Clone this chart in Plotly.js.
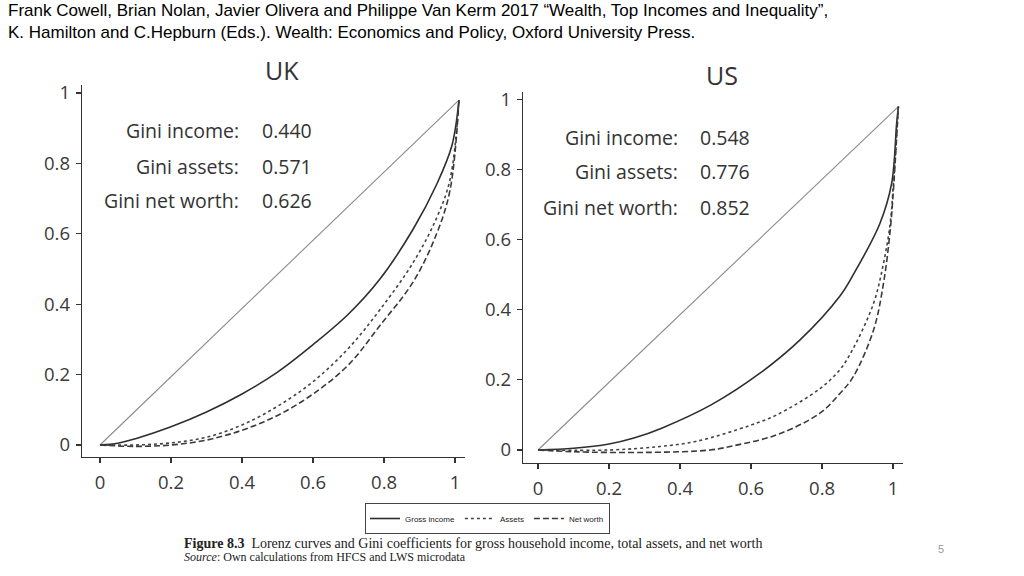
<!DOCTYPE html>
<html>
<head>
<meta charset="utf-8">
<script src="https://cdn.plot.ly/plotly-3.0.1.min.js"></script>
<style>html,body{margin:0;padding:0;background:#fff;}#chart{width:1024px;height:576px;}</style>
</head>
<body>
<div id="chart"></div>
<script>
// ---- Data ----
const tickVals = [0, 0.2, 0.4, 0.6, 0.8, 1];
const tickText = ["0", "0.2", "0.4", "0.6", "0.8", "1"];

const equalityXUK = [0, 1.011];
const equalityYUK = [0, 0.98];
const equalityXUS = [0, 1.015];
const equalityYUS = [0, 0.979];

const ukIncomeX = [0, 0.05, 0.1, 0.2, 0.3, 0.4, 0.5, 0.6, 0.7, 0.789, 0.883, 0.948, 0.991, 1.011];
const ukIncomeY = [0, 0.005, 0.018, 0.052, 0.094, 0.145, 0.207, 0.285, 0.372, 0.472, 0.615, 0.74, 0.85, 0.98];
const ukAssetsX = [0, 0.1, 0.2, 0.3, 0.4, 0.5, 0.6, 0.7, 0.789, 0.883, 0.948, 0.986, 1.011];
const ukAssetsY = [0, 0, 0.006, 0.022, 0.057, 0.11, 0.18, 0.275, 0.385, 0.52, 0.645, 0.755, 0.98];
const ukNetX = [0, 0.1, 0.2, 0.3, 0.4, 0.5, 0.6, 0.7, 0.789, 0.883, 0.948, 0.986, 1.011];
const ukNetY = [0, -0.004, 0, 0.014, 0.042, 0.084, 0.145, 0.228, 0.34, 0.465, 0.6, 0.725, 0.98];

const usIncomeX = [0, 0.1, 0.2, 0.27, 0.35, 0.49, 0.625, 0.738, 0.851, 0.888, 0.963, 0.996, 1.01, 1.015];
const usIncomeY = [0, 0.005, 0.017, 0.034, 0.063, 0.13, 0.219, 0.314, 0.44, 0.5, 0.646, 0.76, 0.93, 0.979];
const usAssetsX = [0, 0.2, 0.344, 0.447, 0.597, 0.672, 0.794, 0.851, 0.888, 0.945, 0.973, 0.992, 1.001, 1.015];
const usAssetsY = [0, 0, 0.01, 0.025, 0.07, 0.1, 0.175, 0.23, 0.29, 0.418, 0.532, 0.646, 0.76, 0.979];
const usNetX = [0, 0.1, 0.3, 0.485, 0.55, 0.672, 0.794, 0.851, 0.888, 0.945, 0.973, 0.992, 1.001, 1.015];
const usNetY = [0, -0.005, -0.007, 0, 0.012, 0.043, 0.105, 0.162, 0.209, 0.342, 0.475, 0.627, 0.741, 0.979];

const seriesNames = ["Gross income", "Assets", "Net worth"];
const giniLabels = ["Gini income:", "Gini assets:", "Gini net worth:"];
const giniUK = ["0.440", "0.571", "0.626"];
const giniUS = ["0.548", "0.776", "0.852"];
const panelTitles = ["UK", "US"];

const headerLines = [
  "Frank Cowell, Brian Nolan, Javier Olivera and Philippe Van Kerm 2017 \u201cWealth, Top Incomes and Inequality\u201d,",
  "K. Hamilton and C.Hepburn (Eds.). Wealth: Economics and Policy, Oxford University Press."
];
const captionLine1 = "<b>Figure 8.3</b>  Lorenz curves and Gini coefficients for gross household income, total assets, and net worth";
const captionLine2 = "<i>Source</i>: Own calculations from HFCS and LWS microdata";
const pageNumber = "5";

// ---- Styles ----
const FONT = "Open Sans, Noto Sans, sans-serif";
const incomeLine = {color: "#2e2e2e", width: 1.6, shape: "spline", smoothing: 1};
const assetsLine = {color: "#444", width: 1.6, dash: "dot", shape: "spline", smoothing: 1};
const netLine = {color: "#3a3a3a", width: 1.6, dash: "6px,3px", shape: "spline", smoothing: 1};
const diagLine = {color: "#8a8a8a", width: 1.1};

const traces = [
  {x: equalityXUK, y: equalityYUK, xaxis: "x", yaxis: "y", mode: "lines", line: diagLine, showlegend: false, hoverinfo: "skip"},
  {x: ukIncomeX, y: ukIncomeY, xaxis: "x", yaxis: "y", mode: "lines", line: incomeLine, name: seriesNames[0], legendgroup: "a"},
  {x: ukAssetsX, y: ukAssetsY, xaxis: "x", yaxis: "y", mode: "lines", line: assetsLine, name: seriesNames[1], legendgroup: "b"},
  {x: ukNetX, y: ukNetY, xaxis: "x", yaxis: "y", mode: "lines", line: netLine, name: seriesNames[2], legendgroup: "c"},
  {x: equalityXUS, y: equalityYUS, xaxis: "x2", yaxis: "y2", mode: "lines", line: diagLine, showlegend: false, hoverinfo: "skip"},
  {x: usIncomeX, y: usIncomeY, xaxis: "x2", yaxis: "y2", mode: "lines", line: incomeLine, name: seriesNames[0], legendgroup: "a", showlegend: false},
  {x: usAssetsX, y: usAssetsY, xaxis: "x2", yaxis: "y2", mode: "lines", line: assetsLine, name: seriesNames[1], legendgroup: "b", showlegend: false},
  {x: usNetX, y: usNetY, xaxis: "x2", yaxis: "y2", mode: "lines", line: netLine, name: seriesNames[2], legendgroup: "c", showlegend: false}
];

function axisBase(extra) {
  return Object.assign({
    showgrid: false, zeroline: false, showline: true, linecolor: "#333", linewidth: 1.3,
    ticks: "outside", ticklen: 5, tickwidth: 1.2, tickcolor: "#333",
    tickvals: tickVals, ticktext: tickText,
    tickfont: {family: FONT, size: 18.5, color: "#3a3a3a"},
    fixedrange: true
  }, extra);
}

const W = 1024, H = 576;
const px = v => v / W;
const py = v => 1 - v / H;

const annotations = [];
annotations.push({text: panelTitles[0], x: px(282), y: py(70), xref: "paper", yref: "paper", showarrow: false, font: {family: FONT, size: 25, color: "#333"}, xanchor: "center", yanchor: "middle"});
annotations.push({text: panelTitles[1], x: px(722), y: py(75), xref: "paper", yref: "paper", showarrow: false, font: {family: FONT, size: 25, color: "#333"}, xanchor: "center", yanchor: "middle"});
const ukRows = [130, 166, 201];
const usRows = [137, 171, 207];
const giniFont = {family: FONT, size: 19.5, color: "#333"};
for (let i = 0; i < 3; i++) {
  annotations.push({text: giniLabels[i], x: px(241), y: py(ukRows[i]), xref: "paper", yref: "paper", showarrow: false, xanchor: "right", yanchor: "middle", font: giniFont});
  annotations.push({text: giniUK[i], x: px(260), y: py(ukRows[i]), xref: "paper", yref: "paper", showarrow: false, xanchor: "left", yanchor: "middle", font: giniFont});
  annotations.push({text: giniLabels[i], x: px(680), y: py(usRows[i]), xref: "paper", yref: "paper", showarrow: false, xanchor: "right", yanchor: "middle", font: giniFont});
  annotations.push({text: giniUS[i], x: px(698), y: py(usRows[i]), xref: "paper", yref: "paper", showarrow: false, xanchor: "left", yanchor: "middle", font: giniFont});
}
const headFont = {family: "Liberation Sans, Arial, sans-serif", size: 17, color: "#000"};
annotations.push({text: headerLines[0], x: px(6), y: py(11), xref: "paper", yref: "paper", showarrow: false, xanchor: "left", yanchor: "middle", font: headFont});
annotations.push({text: headerLines[1], x: px(6), y: py(32), xref: "paper", yref: "paper", showarrow: false, xanchor: "left", yanchor: "middle", font: headFont});
annotations.push({text: captionLine1, x: px(182), y: py(543), xref: "paper", yref: "paper", showarrow: false, xanchor: "left", yanchor: "middle", font: {family: "Liberation Serif, DejaVu Serif, serif", size: 14, color: "#222"}});
annotations.push({text: captionLine2, x: px(182), y: py(557), xref: "paper", yref: "paper", showarrow: false, xanchor: "left", yanchor: "middle", font: {family: "Liberation Serif, DejaVu Serif, serif", size: 12, color: "#222"}});
annotations.push({text: pageNumber, x: px(941), y: py(549), xref: "paper", yref: "paper", showarrow: false, xanchor: "center", yanchor: "middle", font: {family: "Liberation Sans, Arial, sans-serif", size: 11, color: "#999"}});

const layout = {
  width: W, height: H,
  margin: {l: 0, r: 0, t: 0, b: 0},
  paper_bgcolor: "#fff", plot_bgcolor: "#fff",
  showlegend: true,
  legend: {
    orientation: "h", x: px(365), y: py(503), xanchor: "left", yanchor: "top",
    bordercolor: "#444", borderwidth: 1, bgcolor: "#fff",
    font: {family: "Liberation Sans Narrow, Liberation Sans, Arial, sans-serif", size: 8, color: "#222"},
    itemwidth: 30, tracegroupgap: 0
  },
  xaxis: axisBase({domain: [px(82), px(465)], range: [-0.0507, 1.028], anchor: "y", ticklabelstandoff: 3}),
  yaxis: axisBase({domain: [py(457), py(85)], range: [-0.0341, 1.0227], anchor: "x", ticklabelstandoff: 2}),
  xaxis2: axisBase({domain: [px(523), px(903)], range: [-0.0423, 1.028], anchor: "y2", ticklabelstandoff: 3}),
  yaxis2: axisBase({domain: [py(463), py(92)], range: [-0.0371, 1.0208], anchor: "x2", ticklabelstandoff: 2}),
  annotations: annotations
};

Plotly.newPlot("chart", traces, layout, {staticPlot: true, displayModeBar: false});
</script>
</body>
</html>
